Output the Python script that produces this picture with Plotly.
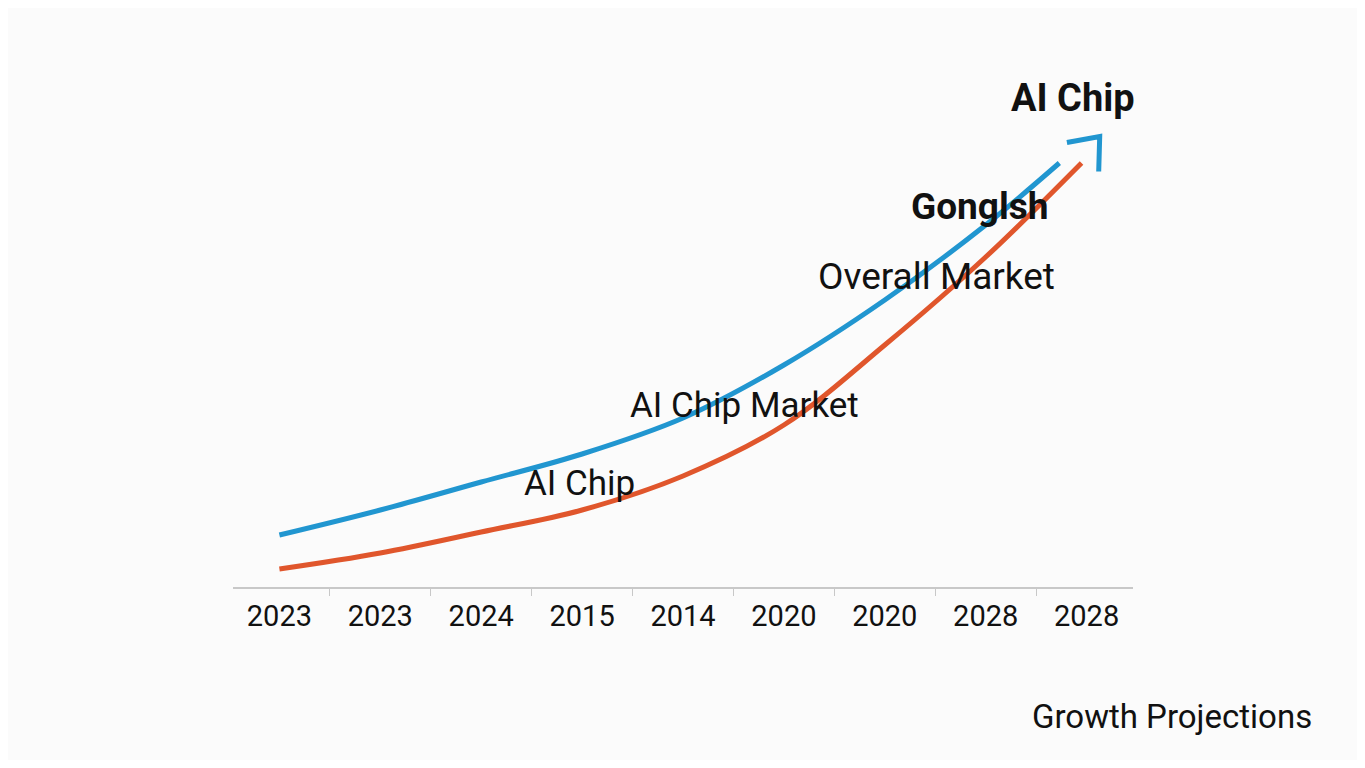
import plotly.graph_objects as go

# Data
tick_labels = ["2023", "2023", "2024", "2015", "2014", "2020", "2020", "2028", "2028"]
tick_positions = [0, 1, 2, 3, 4, 5, 6, 7, 8]

overall_x = [0, 1, 2, 3, 4, 5, 6, 7, 7.73]
overall_y = [10.4, 15.4, 21.0, 26.6, 33.8, 44.4, 57.4, 72.4, 84.8]

aichip_x = [0, 1, 2, 3, 4, 5, 6, 7, 7.95]
aichip_y = [3.6, 6.8, 11.0, 15.4, 22.2, 32.4, 48.4, 66.0, 84.8]

BLUE = "#2196d0"
ORANGE = "#e0562c"
FONT = "Roboto"

fig = go.Figure()
fig.add_trace(go.Scatter(x=overall_x, y=overall_y, mode="lines",
                         line=dict(color=BLUE, width=5, shape="spline", smoothing=1.0),
                         showlegend=False, hoverinfo="skip"))
fig.add_trace(go.Scatter(x=aichip_x, y=aichip_y, mode="lines",
                         line=dict(color=ORANGE, width=5, shape="spline", smoothing=1.0),
                         showlegend=False, hoverinfo="skip"))

# open chevron arrow head
fig.add_shape(type="path", xref="x", yref="y",
              path="M 7.805 88.9 L 8.13 90.1 L 8.12 83.1",
              line=dict(color=BLUE, width=5))

annots = [
    dict(text="<b>AI Chip</b>", x=7.865, y=97.8, size=38),
    dict(text="<b>Gonglsh</b>", x=6.94, y=76.2, size=37),
    dict(text="Overall Market", x=6.51, y=62.2, size=37),
    dict(text="AI Chip Market", x=4.61, y=36.4, size=35),
    dict(text="AI Chip", x=2.97, y=20.8, size=35),
]
for a in annots:
    fig.add_annotation(text=a["text"], x=a["x"], y=a["y"], xref="x", yref="y",
                       showarrow=False, xanchor="center", yanchor="middle",
                       font=dict(family=FONT, size=a["size"], color="#111111"))

fig.add_annotation(text="Growth Projections", x=1.043, y=-0.258, xref="paper", yref="paper",
                   showarrow=False, xanchor="center", yanchor="middle",
                   font=dict(family=FONT, size=33, color="#111111"))

# page body has an 8px margin; compensate so the plot lands where the reference has it
fig.update_layout(
    width=1349, height=752,
    margin=dict(l=225, r=224, t=79, b=173, autoexpand=False),
    paper_bgcolor="#fbfbfb", plot_bgcolor="#fbfbfb",
    font=dict(family=FONT, color="#111111"),
    xaxis=dict(range=[-0.46, 8.46], tickmode="array", tickvals=tick_positions, ticktext=tick_labels,
               showgrid=False, zeroline=False, showline=True, linecolor="#c8c8c8", linewidth=2,
               ticks="", ticklabelstandoff=2,
               tickfont=dict(family=FONT, size=29, color="#111111"),
               minor=dict(tickvals=[0.5, 1.5, 2.5, 3.5, 4.5, 5.5, 6.5, 7.5], ticks="outside",
                          ticklen=7, tickcolor="#c8c8c8", tickwidth=1, showgrid=False)),
    yaxis=dict(range=[0, 100], visible=False, showgrid=False, zeroline=False),
)

fig.write_html("out.html")
